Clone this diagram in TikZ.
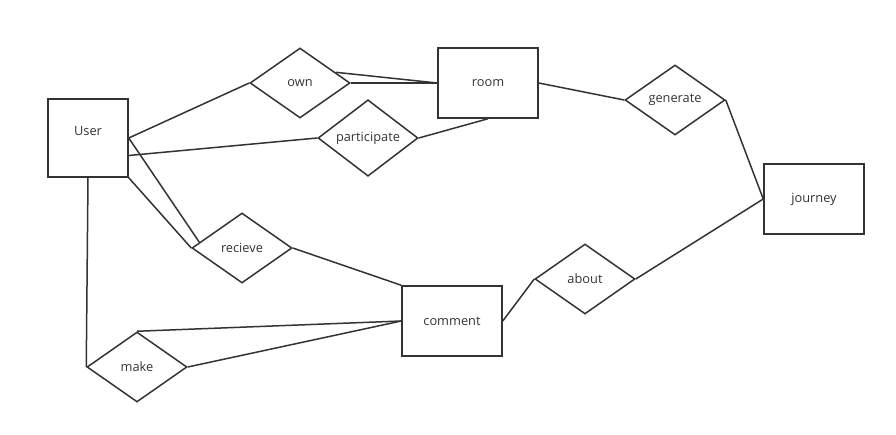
\documentclass[tikz,border=0pt]{standalone}
\usepackage{fontspec}
\setmainfont{Open Sans}
\usetikzlibrary{shapes.geometric, calc}

\definecolor{linegray}{HTML}{333333}

\begin{document}
\begin{tikzpicture}[
        x=1pt, y=-1pt,
        entity/.style={draw=linegray, rectangle, line width=1.5pt, minimum width=100pt, minimum height=70pt, inner sep=0pt, align=center, font=\fontsize{12.8}{14}\selectfont, text=linegray},
        relation/.style={draw=linegray, diamond, line width=1.5pt, minimum width=100pt, minimum height=70pt, inner sep=0pt, align=center, font=\fontsize{12.8}{14}\selectfont, text=linegray},
        link/.style={draw=linegray, line width=1.5pt}
    ]
        \useasboundingbox (0,0) rectangle (896,434);

        % Entities
        \node[entity, minimum width=80pt, minimum height=78pt, text depth=15pt] (user) at (88,138) {User};
        \node[entity] (room) at (488,83) {room};
        \node[entity] (comment) at (452,321) {comment};
        \node[entity] (journey) at (814,199) {journey};

        % Relations
        \node[relation] (own) at (300,83) {own};
        \node[relation] (participate) at (368,138) {participate};
        \node[relation] (generate) at (675,100) {generate};
        \node[relation] (recieve) at (242,248) {recieve};
        \node[relation] (about) at (585,279) {about};
        \node[relation] (make) at (137,367) {make};

        % User links
        \draw[link] (user.east) -- (own.west);
        \draw[link] ($(user.east)!0.44!(user.south east)$) -- (participate.west);
        \draw[link] (user.east) -- ($(recieve.west)!0.16!(recieve.north)$);
        \draw[link] (user.south east) -- (recieve.west);
        \draw[link] (user.south) -- (make.west);

        % room links
        \draw[link] (own.east) -- (room.west);
        \draw[link] ($(own.north)!0.7!(own.east)$) -- (room.west);
        \draw[link] (participate.east) -- (room.south);
        \draw[link] (room.east) -- (generate.west);
        \draw[link] (generate.east) -- (journey.west);

        % comment links
        \draw[link] (recieve.east) -- (comment.north west);
        \draw[link] (comment.east) -- (about.west);
        \draw[link] (about.east) -- (journey.west);
        \draw[link] (make.north) -- (comment.west);
        \draw[link] (make.east) -- (comment.west);

\end{tikzpicture}
\end{document}
